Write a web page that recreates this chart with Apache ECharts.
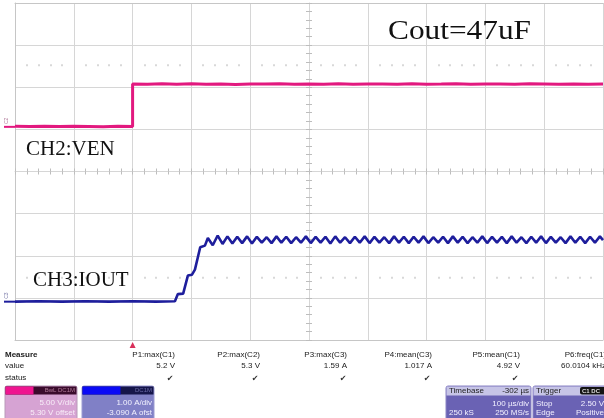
<!DOCTYPE html>
<html><head><meta charset="utf-8">
<script src="https://cdn.jsdelivr.net/npm/echarts@6/dist/echarts.min.js"></script>
<style>html,body{margin:0;padding:0;background:#fff}#c{width:604px;height:418px}</style>
</head><body><div id="c"></div>
<script>
// ---- data (time in µs, CH2 in V, CH3 in A) ----
const venT = [-200,-175,-150,-125,-100,-75,-50,-25,0,0,25,50,75,100,125,150,175,200,225,250,275,300,325,350,375,400,425,450,475,500,525,550,575,600,625,650,675,700,725,750,775,800];
const venV = [0.06,0.03,0.07,0.04,0.08,0.05,0.02,0.06,0.05,
  5.09,5.05,5.11,5.07,5.12,5.06,5.09,5.04,5.10,5.08,5.12,5.05,5.09,5.07,5.11,5.06,5.10,5.08,5.05,5.11,5.07,5.09,5.12,5.06,5.10,5.08,5.05,5.11,5.09,5.07,5.10,5.06,5.08];
const ioutT = [-200,-160,-120,-80,-40,0,40,72,77,86,89,94,101,104,106,109,115,123,
  128.0,136.3,144.7,153.0,161.3,169.7,178.0,186.3,194.7,203.0,
  211.3,219.7,228.0,236.3,244.7,253.0,261.3,269.7,278.0,286.3,
  294.7,303.0,311.3,319.7,328.0,336.3,344.7,353.0,361.3,369.7,
  378.0,386.3,394.7,403.0,411.3,419.7,428.0,436.3,444.7,453.0,
  461.3,469.7,478.0,486.3,494.7,503.0,511.3,519.7,528.0,536.3,
  544.7,553.0,561.3,569.7,578.0,586.3,594.7,603.0,611.3,619.7,
  628.0,636.3,644.7,653.0,661.3,669.7,678.0,686.3,694.7,703.0,
  711.3,719.7,728.0,736.3,744.7,753.0,761.3,769.7,778.0,786.3,
  794.7,800];
const ioutA = [0.00,0.01,0.00,0.01,0.00,0.01,0.00,0.01,0.18,0.19,0.22,0.62,0.64,0.68,0.76,0.80,1.29,1.33,
  1.51,1.34,1.57,1.37,1.55,1.38,1.54,1.39,1.55,1.38,
  1.54,1.40,1.53,1.39,1.55,1.40,1.54,1.39,1.53,1.40,
  1.55,1.39,1.54,1.40,1.54,1.38,1.55,1.40,1.53,1.39,
  1.54,1.40,1.55,1.39,1.54,1.40,1.53,1.39,1.55,1.40,
  1.54,1.39,1.54,1.40,1.55,1.39,1.53,1.40,1.54,1.39,
  1.55,1.40,1.54,1.39,1.53,1.40,1.55,1.39,1.54,1.40,
  1.54,1.39,1.55,1.40,1.53,1.39,1.54,1.40,1.55,1.39,
  1.54,1.40,1.53,1.39,1.55,1.40,1.54,1.39,1.54,1.40,
  1.55,1.46];
const measureHeads = ['P1:max(C1)','P2:max(C2)','P3:max(C3)','P4:mean(C3)','P5:mean(C1)','P6:freq(C1)'];
const measureValues = ['5.2 V','5.3 V','1.59 A','1.017 A','4.92 V','60.0104 kHz'];
const measureStatus = ['✔','✔','✔','✔','✔',''];
const rowLabels = ['Measure','value','status'];
const ch2Box = ['5.00 V/div','5.30 V offset'];
const ch3Box = ['1.00 A/div','-3.090 A ofst'];
const timebaseBox = ['Timebase','-302 µs','100 µs/div','250 kS','250 MS/s'];
const triggerBox = ['Trigger','C1 DC','Stop','2.50 V','Edge','Positive'];
const labels = ['Cout=47uF','CH2:VEN','CH3:IOUT'];

// ---- scope settings ----
const tMin = -200, tMax = 800;
const ch2VperDiv = 5, ch2Offset = 5.30;
const ch3AperDiv = 1, ch3Offset = -3.090;

const chart = echarts.init(document.getElementById('c'), null, {renderer:'canvas'});
const gridCol = '#d6d6d6';
const tickCol = '#bdbdbd';
function xAx(o){ return Object.assign({type:'value', min:tMin, max:tMax, interval:100,
  axisLine:{show:false,onZero:false}, axisTick:{show:false}, axisLabel:{show:false}, splitLine:{show:false}}, o); }
function yAx(o){ return Object.assign({type:'value', min:-4, max:4, interval:1,
  axisLine:{show:false,onZero:false}, axisTick:{show:false}, axisLabel:{show:false}, splitLine:{show:false}}, o); }
const halfH = 337/2, halfW = 588/2, dotOff = 337*1.5/8;

const option = {
  animation:false,
  backgroundColor:'#ffffff',
  grid:{left:15,right:1,top:3,bottom:78,containLabel:false},
  xAxis:[
    xAx({splitLine:{show:true,lineStyle:{color:gridCol,width:1}}, axisLine:{show:true,onZero:false,lineStyle:{color:'#c6c6c6'}}}),
    xAx({position:'top', axisLine:{show:true,onZero:false,lineStyle:{color:'#c6c6c6'}}}),
    xAx({position:'bottom', offset:-halfH, axisLine:{show:true,onZero:false,lineStyle:{color:gridCol}},
      axisTick:{show:true,inside:false,length:3,lineStyle:{color:tickCol}}, minorTick:{show:true,splitNumber:5,length:3,lineStyle:{color:tickCol}}}),
    xAx({position:'bottom', offset:-halfH,
      axisTick:{show:true,inside:true,length:3,lineStyle:{color:tickCol}}, minorTick:{show:true,splitNumber:5,length:3,lineStyle:{color:tickCol}}}),
    xAx({position:'top', offset:-dotOff, minorTick:{show:true,splitNumber:5,length:2,lineStyle:{color:'#cccccc',width:1.5}}}),
    xAx({position:'bottom', offset:-dotOff, minorTick:{show:true,splitNumber:5,length:2,lineStyle:{color:'#cccccc',width:1.5}}})
  ],
  yAxis:[
    yAx({splitLine:{show:true,lineStyle:{color:gridCol,width:1}}, axisLine:{show:true,onZero:false,lineStyle:{color:'#c6c6c6'}}}),
    {type:'value', show:false, min:-ch2Offset-4*ch2VperDiv, max:-ch2Offset+4*ch2VperDiv},
    {type:'value', show:false, min:-ch3Offset-4*ch3AperDiv, max:-ch3Offset+4*ch3AperDiv},
    yAx({position:'left', offset:-halfW, axisLine:{show:true,onZero:false,lineStyle:{color:gridCol}},
      axisTick:{show:true,inside:false,length:3,lineStyle:{color:tickCol}}, minorTick:{show:true,splitNumber:5,length:3,lineStyle:{color:tickCol}}}),
    yAx({position:'left', offset:-halfW,
      axisTick:{show:true,inside:true,length:3,lineStyle:{color:tickCol}}, minorTick:{show:true,splitNumber:5,length:3,lineStyle:{color:tickCol}}})
  ],
  series:[
    {type:'line', xAxisIndex:0, yAxisIndex:1, data: venT.map((t,i)=>[t,venV[i]]), symbol:'none', showSymbol:false,
      lineStyle:{color:'#e2197f',width:3}, z:5},
    {type:'line', xAxisIndex:0, yAxisIndex:2, data: ioutT.map((t,i)=>[t,ioutA[i]]), symbol:'none', showSymbol:false,
      lineStyle:{color:'#1e1e9c',width:2.6}, z:6}
  ]
};
chart.setOption(option);

// ---- decorations / panel ----
const SANS = '"Liberation Sans", Arial, sans-serif';
const F = '8px ' + SANS;
function T(x,y,s,align,o){ o=o||{}; return {type:'text', x:x, y:y, z:o.z||100, scaleX:o.sx||1, rotation:o.rot||0,
  style:{text:s, font:o.font||F, fill:o.fill||'#1a1a1a', align:align||'left', verticalAlign:'middle', textAlign:align||'left', textVerticalAlign:'middle'}}; }
function R(x,y,w,h,fill,o){ o=o||{}; return {type:'rect', z:o.z||90, shape:{x:x,y:y,width:w,height:h,r:o.r||0},
  style:{fill:fill, stroke:o.stroke||null, lineWidth:o.lw||1}}; }

const g = [];
// annotations
g.push(T(388,31.5,labels[0],'left',{font:'27px "Liberation Serif", "Times New Roman", serif', fill:'#111', sx:1.16}));
g.push(T(26,149.5,labels[1],'left',{font:'21px "Liberation Serif", "Times New Roman", serif', fill:'#111'}));
g.push(T(33,280,labels[2],'left',{font:'21px "Liberation Serif", "Times New Roman", serif', fill:'#111'}));
// measure table
const rowY = [355,366,378];
g.push(T(5,rowY[0],rowLabels[0],'left',{font:'bold 8px '+SANS}));
g.push(T(5,rowY[1],rowLabels[1]));
g.push(T(5,rowY[2],rowLabels[2]));
const colR = [175,260,347,432,520,606];
const chkX = [170,255,343,427,515,600];
measureHeads.forEach((h,i)=>{
  g.push(T(colR[i],rowY[0],h,'right'));
  g.push(T(colR[i],rowY[1],measureValues[i],'right'));
  if (measureStatus[i]) g.push(T(chkX[i],rowY[2]+1,measureStatus[i],'center',{font:'8px "DejaVu Sans", sans-serif', fill:'#333'}));
});
// CH2 box
g.push(R(5,386,72,40,'#d6a3d3',{r:2,stroke:'#b89ab8',z:80}));
g.push(R(5.5,386.5,71,8,'#3a0b2c',{z:81}));
g.push(R(5.5,386.5,28,8,'#ef1590',{z:82}));
g.push(T(75,390.5,'BwL DC1M','right',{font:'6px '+SANS, fill:'#b07a98'}));
g.push(T(75,403,ch2Box[0],'right',{fill:'#f8eef8'}));
g.push(T(75,413,ch2Box[1],'right',{fill:'#f8eef8'}));
// CH3 box
g.push(R(82,386,72,40,'#8080c6',{r:2,stroke:'#9c9cd2',z:80}));
g.push(R(82.5,386.5,71,8,'#15154a',{z:81}));
g.push(R(82.5,386.5,38,8,'#0a0af6',{z:82}));
g.push(T(152,390.5,'DC1M','right',{font:'6px '+SANS, fill:'#6a6aa6'}));
g.push(T(152,403,ch3Box[0],'right',{fill:'#f2f2ff'}));
g.push(T(152,413,ch3Box[1],'right',{fill:'#f2f2ff'}));
// Timebase box
g.push(R(446,386,85,40,'#6a62b4',{r:2,stroke:'#8a84c4',z:80}));
g.push(R(446.5,386.5,84,9,'#c6c4e6',{z:81}));
g.push(T(449,391,timebaseBox[0],'left',{fill:'#222'}));
g.push(T(529,391,timebaseBox[1],'right',{fill:'#222'}));
g.push(T(529,404,timebaseBox[2],'right',{fill:'#f2f0ff'}));
g.push(T(449,413,timebaseBox[3],'left',{fill:'#f2f0ff'}));
g.push(T(529,413,timebaseBox[4],'right',{fill:'#f2f0ff'}));
// Trigger box
g.push(R(533,386,75,40,'#6a62b4',{r:2,stroke:'#8a84c4',z:80}));
g.push(R(533.5,386.5,74,9,'#c6c4e6',{z:81}));
g.push(T(536,391,triggerBox[0],'left',{fill:'#222'}));
g.push(R(580,387,26,7.5,'#141414',{r:2,z:83}));
g.push(T(582,391,triggerBox[1],'left',{font:'bold 6px '+SANS, fill:'#dddddd'}));
g.push(T(536,404,triggerBox[2],'left',{fill:'#f2f0ff'}));
g.push(T(604,404,triggerBox[3],'right',{fill:'#f2f0ff'}));
g.push(T(536,413,triggerBox[4],'left',{fill:'#f2f0ff'}));
g.push(T(604,413,triggerBox[5],'right',{fill:'#f2f0ff'}));

// markers positioned through the axes
const trigX = chart.convertToPixel({xAxisIndex:0}, 0);
const c2Y = chart.convertToPixel({yAxisIndex:1}, 0);
const c3Y = chart.convertToPixel({yAxisIndex:2}, 0);
g.push({type:'polygon', z:95, shape:{points:[[trigX-3,348],[trigX+3,348],[trigX,342]]}, style:{fill:'#d8305a'}});
g.push({type:'line', z:95, shape:{x1:4,y1:c2Y,x2:15,y2:c2Y}, style:{stroke:'#e2197f',lineWidth:2}});
g.push({type:'line', z:95, shape:{x1:4,y1:c3Y,x2:15,y2:c3Y}, style:{stroke:'#1e1e9c',lineWidth:2}});
g.push(T(7,c2Y-6,'C2','center',{font:'5px '+SANS, fill:'#b07898', rot:Math.PI/2}));
g.push(T(7,c3Y-6,'C3','center',{font:'5px '+SANS, fill:'#7878a8', rot:Math.PI/2}));

chart.setOption({graphic: g});
</script>
</body></html>
